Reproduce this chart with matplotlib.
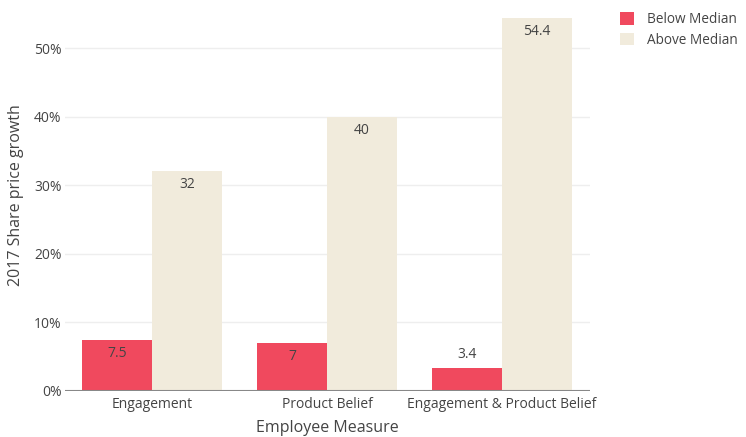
import numpy as np
import matplotlib
matplotlib.use("Agg")
import matplotlib.pyplot as plt
from matplotlib.patches import Patch

categories = ["Engagement", "Product Belief", "Engagement & Product Belief"]
below_median = [7.5, 7, 3.4]
above_median = [32, 40, 54.4]
series_names = ["Below Median", "Above Median"]
y_ticks = [0, 10, 20, 30, 40, 50]

RED = "#F0495E"
BEIGE = "#F1EBDC"
TEXT = "#444444"

plt.rcParams["font.family"] = ["Open Sans", "DejaVu Sans"]

fig = plt.figure(figsize=(7.46, 4.37), dpi=100)
ax = fig.add_axes([64.5 / 746, 46 / 437, 525 / 746, 391 / 437])

x = np.arange(len(categories))
w = 0.4
bars_lo = ax.bar(x - w / 2, below_median, w, color=RED, zorder=2)
bars_hi = ax.bar(x + w / 2, above_median, w, color=BEIGE, zorder=2)


def label(bars, values):
    for b, v in zip(bars, values):
        cx = b.get_x() + b.get_width() / 2
        if v < 5:
            off, va = 6, "bottom"
        else:
            off, va = -6, "top"
        ax.annotate(f"{v:g}", (cx, v), xytext=(0, off), textcoords="offset pixels",
                    ha="center", va=va, fontsize=10, color=TEXT, zorder=3)


label(bars_lo, below_median)
label(bars_hi, above_median)

ax.set_xlim(-0.5, len(categories) - 0.5)
ax.set_ylim(0, 57)
ax.set_yticks(y_ticks)
ax.set_yticklabels([f"{t}%" for t in y_ticks])
ax.set_xticks(x)
ax.set_xticklabels(categories)
ax.tick_params(axis="both", length=0, labelsize=10, labelcolor=TEXT)
ax.tick_params(axis="x", pad=4)
ax.tick_params(axis="y", pad=2)
ax.grid(axis="y", color="#EEEEEE", linewidth=1, zorder=0)
ax.axhline(0, color="#888888", linewidth=1.5, zorder=3)
for s in ax.spines.values():
    s.set_visible(False)
ax.set_axisbelow(True)

ax.set_xlabel("Employee Measure", fontsize=11.5, color=TEXT, labelpad=6)
ax.set_ylabel("2017 Share price growth", fontsize=11.5, color=TEXT, labelpad=7)

handles = [Patch(facecolor=RED, label=series_names[0]),
           Patch(facecolor=BEIGE, label=series_names[1])]
fig.legend(handles=handles, loc="upper left", bbox_to_anchor=(608 / 746, 1.0),
           frameon=False, fontsize=9.8, labelcolor=TEXT,
           handlelength=1.0, handleheight=1.0, handletextpad=1.0, labelspacing=0.4)

fig.savefig("out.png", dpi=100, facecolor="white")
